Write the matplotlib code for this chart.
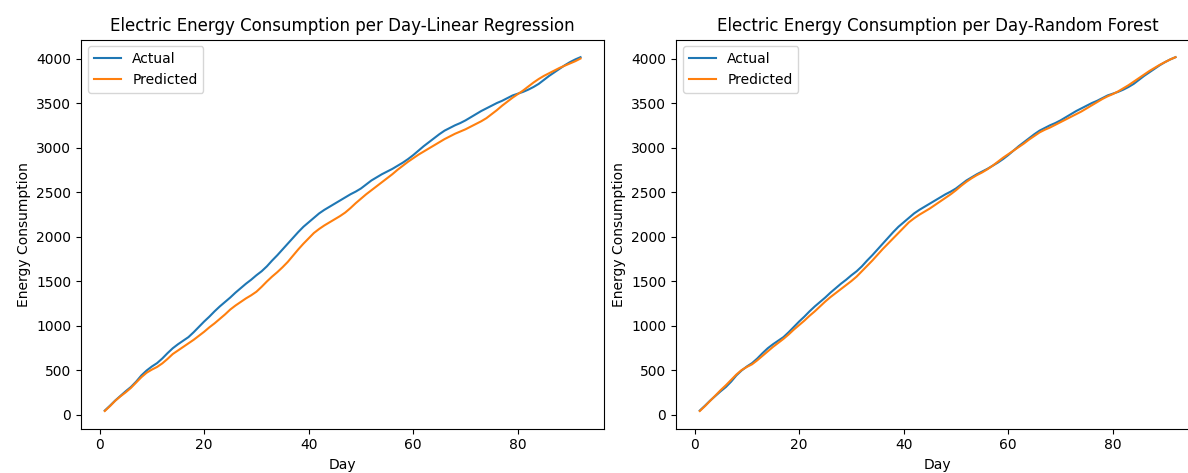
import matplotlib
matplotlib.use("Agg")
import matplotlib.pyplot as plt

days = list(range(1, 93))

actual = [45, 100, 158, 210, 262, 310, 370, 440, 495, 540,
          578, 630, 690, 745, 790, 830, 870, 925, 985, 1045,
          1100, 1160, 1215, 1265, 1315, 1370, 1420, 1470, 1515, 1565,
          1610, 1665, 1730, 1790, 1855, 1920, 1985, 2050, 2110, 2160,
          2210, 2260, 2300, 2335, 2370, 2405, 2440, 2475, 2505, 2540,
          2585, 2630, 2665, 2700, 2730, 2760, 2795, 2830, 2870, 2915,
          2965, 3015, 3060, 3105, 3150, 3190, 3220, 3250, 3275, 3305,
          3340, 3375, 3410, 3440, 3470, 3500, 3525, 3555, 3585, 3605,
          3625, 3650, 3680, 3715, 3760, 3805, 3845, 3885, 3925, 3960,
          3990, 4015]

pred_lr = [40, 95, 155, 205, 250, 300, 360, 420, 470, 505,
           535, 575, 625, 680, 720, 760, 800, 840, 885, 930,
           980, 1025, 1075, 1125, 1180, 1225, 1265, 1305, 1340, 1380,
           1435, 1495, 1550, 1600, 1655, 1715, 1785, 1855, 1920, 1980,
           2040, 2085, 2125, 2160, 2195, 2230, 2270, 2320, 2375, 2425,
           2475, 2520, 2565, 2610, 2655, 2700, 2750, 2795, 2840, 2880,
           2920, 2955, 2990, 3025, 3060, 3095, 3125, 3155, 3180, 3205,
           3235, 3265, 3295, 3330, 3375, 3420, 3470, 3515, 3560, 3600,
           3640, 3685, 3730, 3770, 3805, 3835, 3865, 3895, 3920, 3945,
           3970, 4000]

pred_rf = [40, 95, 155, 215, 275, 330, 390, 450, 500, 535,
           565, 610, 660, 710, 760, 805, 850, 900, 955, 1005,
           1055, 1110, 1160, 1215, 1270, 1320, 1365, 1410, 1455, 1500,
           1550, 1610, 1670, 1730, 1795, 1860, 1920, 1980, 2040, 2100,
           2160, 2205, 2245, 2280, 2315, 2355, 2395, 2435, 2475, 2520,
           2570, 2615, 2655, 2690, 2720, 2755, 2795, 2840, 2885, 2925,
           2965, 3005, 3045, 3090, 3130, 3170, 3200, 3225, 3255, 3285,
           3315, 3345, 3375, 3405, 3440, 3475, 3510, 3545, 3575, 3600,
           3630, 3665, 3700, 3740, 3780, 3820, 3860, 3895, 3930, 3960,
           3990, 4015]

titles = ["Electric Energy Consumption per Day-Linear Regression",
          "Electric Energy Consumption per Day-Random Forest"]

W, H = 1188, 473
top, bottom = 39.5, 428.7
axw = 523.3
fig = plt.figure(figsize=(W / 100, H / 100), dpi=100)
ax1 = fig.add_axes([81 / W, 1 - bottom / H, axw / W, (bottom - top) / H])
ax2 = fig.add_axes([676 / W, 1 - bottom / H, axw / W, (bottom - top) / H])

for ax, pred, title in zip([ax1, ax2], [pred_lr, pred_rf], titles):
    ax.plot(days, actual, color="#1f77b4", label="Actual")
    ax.plot(days, pred, color="#ff7f0e", label="Predicted")
    ax.set_title(title)
    ax.set_xlabel("Day")
    ax.set_ylabel("Energy Consumption")
    ax.legend(loc="upper left")

fig.savefig("out.png", dpi=100)
